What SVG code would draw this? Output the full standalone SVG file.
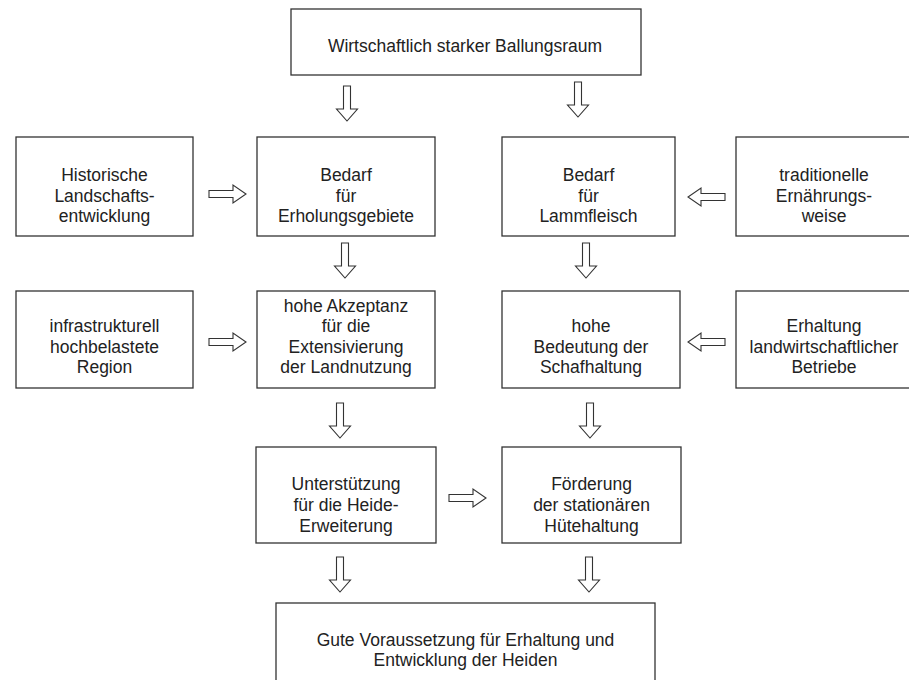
<svg xmlns="http://www.w3.org/2000/svg" width="909" height="680" viewBox="0 0 909 680">
<style>
.box{fill:#fff;stroke:#333;stroke-width:1.3}
.arr{fill:#fff;stroke:#333;stroke-width:1.1;stroke-linejoin:miter}
text{font-family:"Liberation Sans",Arial,sans-serif;font-size:17.5px;fill:#222;text-anchor:middle}
</style>
<defs>
<path id="down" d="M-3.5,-35 H3.5 V-12 H10.5 L0,0 L-10.5,-12 H-3.5 Z"/>
<path id="right" d="M-37,-3.5 H-13 V-9 L0,0 L-13,9 V3.5 H-37 Z"/>
<path id="left" d="M37,-3.5 H13 V-9 L0,0 L13,9 V3.5 H37 Z"/>
</defs>
<rect width="909" height="680" fill="#fff"/>
<g id="connectors">
<use href="#down" class="arr" x="347" y="121"/>
<use href="#down" class="arr" x="578" y="117"/>
<use href="#down" class="arr" x="345" y="278"/>
<use href="#down" class="arr" x="586" y="278"/>
<use href="#down" class="arr" x="340" y="438"/>
<use href="#down" class="arr" x="590" y="438"/>
<use href="#down" class="arr" x="340" y="592"/>
<use href="#down" class="arr" x="589" y="592"/>
<use href="#right" class="arr" x="246" y="194"/>
<use href="#right" class="arr" x="246" y="342"/>
<use href="#left" class="arr" x="688" y="197"/>
<use href="#left" class="arr" x="688" y="342"/>
<use href="#right" class="arr" x="486" y="498"/>
</g>
<g id="n-top"><rect class="box" x="291" y="9" width="350" height="66"/><text x="465" y="52">Wirtschaftlich starker Ballungsraum</text></g>
<g id="n-hist"><rect class="box" x="16" y="137" width="177" height="99"/><text x="104.5" y="181">Historische</text><text x="104.5" y="202">Landschafts-</text><text x="104.5" y="222">entwicklung</text></g>
<g id="n-bedE"><rect class="box" x="257" y="137" width="178" height="99"/><text x="346" y="181">Bedarf</text><text x="346" y="202">für</text><text x="346" y="222">Erholungsgebiete</text></g>
<g id="n-bedL"><rect class="box" x="502" y="137" width="173" height="99"/><text x="588.5" y="181">Bedarf</text><text x="588.5" y="202">für</text><text x="588.5" y="222">Lammfleisch</text></g>
<g id="n-trad"><rect class="box" x="736" y="137" width="176" height="99"/><text x="824" y="181">traditionelle</text><text x="824" y="202">Ernährungs-</text><text x="824" y="222">weise</text></g>
<g id="n-infra"><rect class="box" x="16" y="291" width="177" height="97"/><text x="104.5" y="332">infrastrukturell</text><text x="104.5" y="353">hochbelastete</text><text x="104.5" y="373">Region</text></g>
<g id="n-akz"><rect class="box" x="257" y="291" width="178" height="97"/><text x="346" y="312">hohe Akzeptanz</text><text x="346" y="332">für die</text><text x="346" y="353">Extensivierung</text><text x="346" y="373">der Landnutzung</text></g>
<g id="n-bedeut"><rect class="box" x="502" y="291" width="178" height="97"/><text x="591" y="332">hohe</text><text x="591" y="353">Bedeutung der</text><text x="591" y="373">Schafhaltung</text></g>
<g id="n-erh"><rect class="box" x="736" y="291" width="176" height="97"/><text x="824" y="332">Erhaltung</text><text x="824" y="353">landwirtschaftlicher</text><text x="824" y="373">Betriebe</text></g>
<g id="n-unter"><rect class="box" x="256" y="447" width="180" height="96"/><text x="346" y="490">Unterstützung</text><text x="346" y="511">für die Heide-</text><text x="346" y="532">Erweiterung</text></g>
<g id="n-foerd"><rect class="box" x="502" y="447" width="179" height="96"/><text x="591.5" y="490">Förderung</text><text x="591.5" y="511">der stationären</text><text x="591.5" y="532">Hütehaltung</text></g>
<g id="n-gute"><rect class="box" x="276" y="603" width="379" height="79"/><text x="465.5" y="646">Gute Voraussetzung für Erhaltung und</text><text x="465.5" y="666">Entwicklung der Heiden</text></g>
</svg>
